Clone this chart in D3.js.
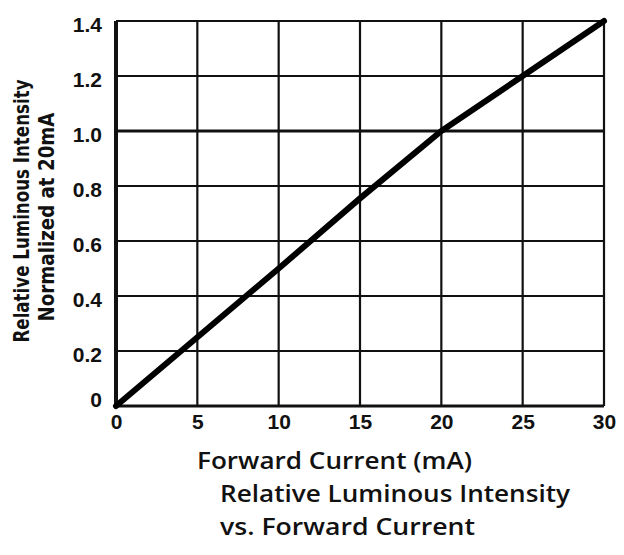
<!DOCTYPE html>
<html><head><meta charset="utf-8">
<script src="https://cdn.jsdelivr.net/npm/d3@7"></script>
<style>body{margin:0;background:#fff}svg{display:block}</style>
</head><body>
<svg id="c" width="624" height="555"></svg>
<script>
const current = [0, 5, 10, 15, 20, 25, 30];
const intensity = [0, 0.25, 0.5, 0.755, 1.0, 1.2, 1.4];
const xTicks = [0, 5, 10, 15, 20, 25, 30];
const yTicks = [0, 0.2, 0.4, 0.6, 0.8, 1.0, 1.2, 1.4];
const yTickLabels = ["0", "0.2", "0.4", "0.6", "0.8", "1.0", "1.2", "1.4"];
const xTitle = "Forward Current (mA)";
const yTitle = ["Relative Luminous Intensity", "Normalized at 20mA"];
const caption = ["Relative Luminous Intensity", "vs. Forward Current"];

const svg = d3.select("#c");
const L = 116, R = 604, T = 21, B = 406;
const x = d3.scaleLinear().domain([0, 30]).range([L, R]);
const y = d3.scaleLinear().domain([0, 1.4]).range([B, T]);
const ink = "#111";

// grid
const g = svg.append("g");
g.selectAll("line.v").data(xTicks).join("line")
  .attr("x1", d => x(d)).attr("x2", d => x(d)).attr("y1", T).attr("y2", B)
  .attr("stroke", ink).attr("stroke-width", d => d === 0 ? 4 : 2.2);
g.selectAll("line.h").data(yTicks).join("line")
  .attr("x1", L).attr("x2", R).attr("y1", d => y(d)).attr("y2", d => y(d))
  .attr("stroke", ink).attr("stroke-width", d => d === 0 ? 3 : (d === 1.0 ? 3 : 2.2));

// x axis tick labels
const xAxis = d3.axisBottom(x).tickValues(xTicks).tickSize(0).tickPadding(0).tickFormat(d3.format("d"));
const xa = svg.append("g").attr("transform", `translate(0,${B})`).call(xAxis);
xa.select(".domain").remove();
xa.selectAll("text").attr("dy", null).attr("y", 23)
  .attr("font-family", "Liberation Sans, Arial, sans-serif").attr("font-weight", "bold")
  .attr("font-size", 21).attr("fill", ink);

// y axis tick labels
const yAxis = d3.axisLeft(y).tickValues(yTicks).tickSize(0).tickPadding(0)
  .tickFormat((d, i) => yTickLabels[i]);
const ya = svg.append("g").attr("transform", `translate(${L - 14},0)`).call(yAxis);
ya.select(".domain").remove();
ya.selectAll("text").attr("x", 0).attr("dy", (d) => d === 0 ? "0.0em" : "0.5em")
  .attr("font-family", "Liberation Sans, Arial, sans-serif").attr("font-weight", "bold")
  .attr("font-size", 21).attr("fill", ink);

// curve
const line = d3.line().x((d, i) => x(current[i])).y(d => y(d));
svg.append("path").datum(intensity).attr("d", line)
  .attr("fill", "none").attr("stroke", "#000").attr("stroke-width", 6)
  .attr("stroke-linejoin", "round").attr("stroke-linecap", "round");

// y title
const yt = svg.append("g");
yt.append("text").attr("transform", "translate(29,211) rotate(-90)")
  .attr("text-anchor", "middle").attr("font-family", "DejaVu Sans Condensed, DejaVu Sans, sans-serif")
  .attr("font-weight", "bold").attr("font-size", 21).attr("fill", ink)
  .attr("textLength", 263).attr("lengthAdjust", "spacingAndGlyphs").text(yTitle[0]);
yt.append("text").attr("transform", "translate(54,217) rotate(-90)")
  .attr("text-anchor", "middle").attr("font-family", "DejaVu Sans Condensed, DejaVu Sans, sans-serif")
  .attr("font-weight", "bold").attr("font-size", 21).attr("fill", ink)
  .attr("textLength", 209).attr("lengthAdjust", "spacingAndGlyphs").text(yTitle[1]);

// x title and caption
const tf = "Open Sans, DejaVu Sans, sans-serif";
svg.append("text").attr("x", 197).attr("y", 469).attr("font-family", tf).attr("font-weight", 600)
  .attr("font-size", 24).attr("fill", ink).attr("textLength", 275).attr("lengthAdjust", "spacingAndGlyphs").text(xTitle);
svg.append("text").attr("x", 220).attr("y", 502).attr("font-family", tf).attr("font-weight", 600)
  .attr("font-size", 24).attr("fill", ink).attr("textLength", 350).attr("lengthAdjust", "spacingAndGlyphs").text(caption[0]);
svg.append("text").attr("x", 220).attr("y", 535).attr("font-family", tf).attr("font-weight", 600)
  .attr("font-size", 24).attr("fill", ink).attr("textLength", 255).attr("lengthAdjust", "spacingAndGlyphs").text(caption[1]);
</script>
</body></html>
